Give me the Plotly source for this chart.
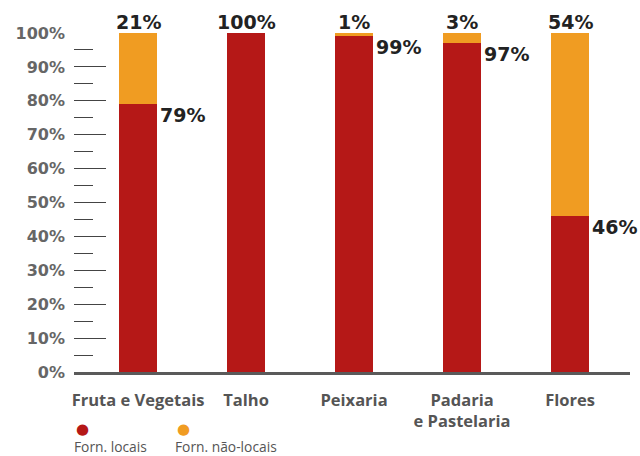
import plotly.graph_objects as go

categories = ["Fruta e Vegetais", "Talho", "Peixaria", "Padaria<br>e Pastelaria", "Flores"]
local_vals = [79, 100, 99, 97, 46]
nonlocal_vals = [21, 0, 1, 3, 54]
series_names = ["Forn. locais", "Forn. não-locais"]
colors = ["#B51817", "#F09C22"]
y_ticks = [0, 10, 20, 30, 40, 50, 60, 70, 80, 90, 100]
y_labels = [f"{v}%" for v in y_ticks]

W, H = 640, 456
ML, MR, MT, MB = 74, 10, 33, 84
PW, PH = W - ML - MR, H - MT - MB


def px_to_paper(px, py):
    return (px - ML) / PW, (H - MB - py) / PH


fig = go.Figure()
fig.add_trace(go.Bar(x=categories, y=local_vals, name=series_names[0],
                     marker=dict(color=colors[0], line=dict(width=0)), width=0.352))
fig.add_trace(go.Bar(x=categories, y=nonlocal_vals, name=series_names[1],
                     marker=dict(color=colors[1], line=dict(width=0)), width=0.352))

label_font = dict(family="DejaVu Sans", size=19, color="#222222")
annotations = []
for c, l, n in zip(categories, local_vals, nonlocal_vals):
    top_val = n if n > 0 else l
    annotations.append(dict(x=c, y=100, text=f"<b>{top_val}%</b>", showarrow=False,
                            xref="x", yref="y", yanchor="middle", yshift=11,
                            font=label_font))
    if n > 0:
        annotations.append(dict(x=c, y=l, text=f"<b>{l}%</b>", showarrow=False,
                                xref="x", yref="y", xanchor="left", yanchor="middle",
                                xshift=20, yshift=-11, font=label_font))

# legend: coloured dot above each series name
legend_x = [82, 183]
for name, col, lx in zip(series_names, colors, legend_x):
    dx, dy = px_to_paper(lx, 429)
    tx, ty = px_to_paper(lx - 9, 446)
    annotations.append(dict(x=dx, y=dy, xref="paper", yref="paper",
                            text="●", showarrow=False, xanchor="center", yanchor="middle",
                            font=dict(family="DejaVu Sans", size=15, color=col)))
    annotations.append(dict(x=tx, y=ty, xref="paper", yref="paper",
                            text=name, showarrow=False, xanchor="left", yanchor="middle",
                            borderpad=0,
                            font=dict(family="Open Sans", size=13.8, color="#555555")))

fig.update_layout(
    barmode="stack",
    width=W, height=H,
    margin=dict(l=ML, r=MR, t=MT, b=MB, autoexpand=False),
    plot_bgcolor="white", paper_bgcolor="white",
    showlegend=False,
    annotations=annotations,
    xaxis=dict(range=[-0.593, 4.555], showgrid=False, showline=True,
               linecolor="#5a5a5a", linewidth=3, ticks="",
               tickfont=dict(family="Open Sans", size=16.5, color="#555555", weight="bold"),
               ticklabelstandoff=11),
    yaxis=dict(range=[0, 100], showgrid=False, showline=False, zeroline=False,
               tickvals=y_ticks, ticktext=[f"<b>{t}</b>" for t in y_labels],
               ticks="inside", ticklen=32, tickwidth=1.3, tickcolor="#444444",
               minor=dict(ticks="inside", ticklen=19, tickwidth=1.3, tickcolor="#444444",
                          dtick=5, tick0=5, showgrid=False),
               tickfont=dict(family="DejaVu Sans", size=16, color="#666666"),
               ticklabelstandoff=8),
)
fig.update_traces(cliponaxis=False)
fig.write_html("out.html", config={"displayModeBar": False},
               post_script="document.body.style.margin='0';document.body.style.overflow='hidden';")
